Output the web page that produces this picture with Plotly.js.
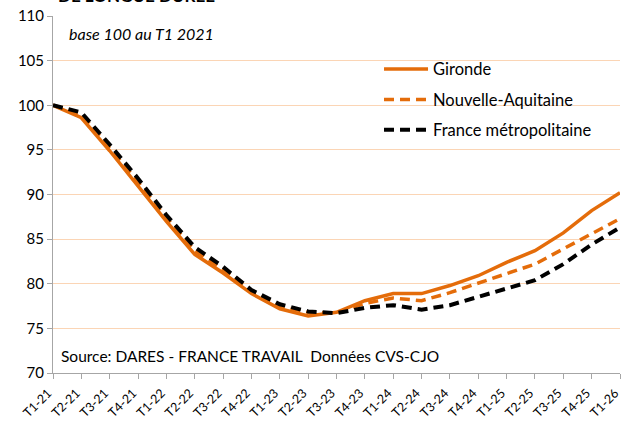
<!DOCTYPE html>
<html><head><meta charset="utf-8">
<script src="https://cdn.plot.ly/plotly-3.0.1.min.js"></script>
<style>html,body{margin:0;padding:0;background:#fff}#c{width:621px;height:421px}</style>
</head><body><div id="c"></div>
<script>
const categories = ["T1-21","T2-21","T3-21","T4-21","T1-22","T2-22","T3-22","T4-22","T1-23","T2-23","T3-23","T4-23","T1-24","T2-24","T3-24","T4-24","T1-25","T2-25","T3-25","T4-25","T1-26"];
const gironde = [100,98.6,94.9,91.0,87.0,83.3,81.2,78.9,77.2,76.4,76.8,78.1,78.9,78.9,79.8,80.9,82.4,83.7,85.7,88.2,90.2];
const nouvelleAquitaine = [100,99.0,95.2,91.4,87.4,83.7,81.6,79.1,77.5,76.8,76.7,77.8,78.4,78.1,79.0,80.1,81.1,82.2,83.9,85.6,87.3];
const france = [100,99.2,95.6,91.8,87.7,84.1,81.9,79.3,77.7,76.9,76.7,77.3,77.6,77.1,77.6,78.5,79.5,80.4,82.2,84.4,86.3];
const yTicks = [70,75,80,85,90,95,100,105,110];

const orange = "#E46C0A";
const font = "Lato, 'Liberation Sans', sans-serif";

const traces = [
  {x: categories, y: gironde, name: "Gironde", legendgroup: "a", mode: "lines",
   line: {color: orange, width: 3.5}},
  {x: categories, y: nouvelleAquitaine, name: "Nouvelle-Aquitaine", legendgroup: "b", mode: "lines",
   line: {color: orange, width: 3.5, dash: "10px,6px"}},
  {x: categories, y: france, name: "France métropolitaine", legendgroup: "c", mode: "lines",
   line: {color: "#000000", width: 4, dash: "10px,6px"}}
];

const layout = {
  width: 621, height: 421,
  margin: {l: 53, r: 1, t: 16, b: 48},
  paper_bgcolor: "#fff", plot_bgcolor: "#fff",
  font: {family: font, size: 15, color: "#000"},
  showlegend: true,
  legend: {x: 0.575, y: 0.9, xanchor: "left", yanchor: "top", bgcolor: "rgba(0,0,0,0)",
           font: {family: font, size: 16.5, color: "#000"}, tracegroupgap: 6, itemwidth: 44},
  xaxis: {type: "category", range: [0, 20], showgrid: false, showline: true, linecolor: "#A6A6A6",
          linewidth: 1, ticks: "outside", ticklen: 5, tickcolor: "#A6A6A6", tickangle: -45,
          ticklabelstandoff: 2, ticklabelshift: -5,
          tickfont: {family: font, size: 12.5, color: "#000"}, zeroline: false, fixedrange: true},
  yaxis: {range: [70, 110], tickvals: yTicks, ticktext: yTicks.map(String), showgrid: true, gridcolor: "#FBD5B5",
          gridwidth: 1, showline: true, linecolor: "#A6A6A6", linewidth: 1, ticks: "outside",
          ticklen: 5, tickcolor: "#A6A6A6", zeroline: false, tickfont: {family: font, size: 15, color: "#000"}},
  annotations: [
    {text: "<b>DE LONGUE DURÉE</b>", xref: "paper", yref: "paper", x: 0.006, y: 1.057, xanchor: "left", yanchor: "middle",
     showarrow: false, font: {family: font, size: 17, color: "#000"}},
    {text: "<i>base 100 au T1 2021</i>", xref: "paper", yref: "paper", x: 0.024, y: 0.952, xanchor: "left", yanchor: "middle",
     showarrow: false, font: {family: font, size: 16, color: "#000"}},
    {text: "Source: DARES - FRANCE TRAVAIL  Données CVS-CJO", xref: "paper", yref: "paper", x: 0.01, y: 0.048,
     xanchor: "left", yanchor: "middle", showarrow: false, font: {family: font, size: 15.5, color: "#000"}}
  ]
};
Plotly.newPlot("c", traces, layout, {displayModeBar: false, staticPlot: true});
</script></body></html>
